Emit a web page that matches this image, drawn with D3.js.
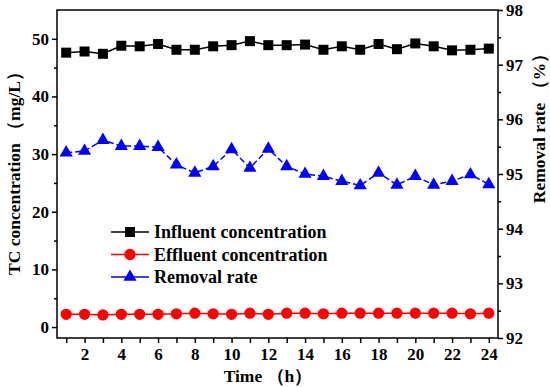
<!DOCTYPE html>
<html>
<head>
<meta charset="utf-8">
<script src="https://cdn.jsdelivr.net/npm/d3@7"></script>
<style>
  body { margin: 0; background: #fff; }
  svg text { font-family: "Liberation Serif", "Times New Roman", serif; font-weight: bold; }
</style>
</head>
<body>
<script>
// Data
var hours = d3.range(1, 25);
var influent = [47.6, 47.8, 47.4, 48.8, 48.7, 49.1, 48.1, 48.1, 48.7, 48.9, 49.6, 48.9,
                48.9, 49.0, 48.1, 48.7, 48.1, 49.1, 48.2, 49.2, 48.7, 48.0, 48.1, 48.3];
var effluent = [2.2, 2.2, 2.1, 2.2, 2.2, 2.2, 2.3, 2.4, 2.3, 2.2, 2.4, 2.2,
                2.4, 2.4, 2.3, 2.4, 2.4, 2.4, 2.4, 2.4, 2.4, 2.4, 2.3, 2.4];
var removal = [95.39, 95.42, 95.62, 95.51, 95.51, 95.49, 95.17, 95.02, 95.14, 95.45, 95.11, 95.46,
               95.14, 95.00, 94.96, 94.87, 94.79, 95.02, 94.80, 94.96, 94.80, 94.87, 94.99, 94.81];
var xTicks = [2, 4, 6, 8, 10, 12, 14, 16, 18, 20, 22, 24];
var leftTicks = [0, 10, 20, 30, 40, 50];
var rightTicks = [92, 93, 94, 95, 96, 97, 98];
var legendLabels = ["Influent concentration", "Effluent concentration", "Removal rate"];

var width = 550, height = 387;
var margin = { left: 57, right: 52, top: 10, bottom: 49 };

var svg = d3.select("body").append("svg")
            .attr("width", width)
            .attr("height", height);

var x = d3.scaleLinear().domain([0.5, 24.5]).range([margin.left, width - margin.right]);
var yL = d3.scaleLinear().domain([-1.9, 55]).range([height - margin.bottom, margin.top]);
var yR = d3.scaleLinear().domain([92, 98]).range([height - margin.bottom, margin.top]);

var fs = "17px";

// frame
svg.append("rect")
   .attr("x", margin.left).attr("y", margin.top)
   .attr("width", width - margin.left - margin.right)
   .attr("height", height - margin.top - margin.bottom)
   .attr("fill", "none").attr("stroke", "#000").attr("stroke-width", 1.5);

// x axis: ticks every hour, labels every 2
svg.append("g")
   .attr("transform", "translate(0," + (height - margin.bottom) + ")")
   .call(d3.axisBottom(x).tickValues(hours).tickSize(5).tickPadding(5)
         .tickFormat(function(d) { return xTicks.indexOf(d) >= 0 ? d : ""; }));

// left axis with minor ticks
svg.append("g")
   .attr("transform", "translate(" + margin.left + ",0)")
   .call(d3.axisLeft(yL).tickValues(leftTicks).tickSize(5).tickPadding(3));
svg.append("g")
   .attr("transform", "translate(" + margin.left + ",0)")
   .call(d3.axisLeft(yL).tickValues([5, 15, 25, 35, 45]).tickSize(3).tickFormat(""));

// right axis with minor ticks
svg.append("g")
   .attr("transform", "translate(" + (width - margin.right) + ",0)")
   .call(d3.axisRight(yR).tickValues(rightTicks).tickSize(5).tickPadding(3)
         .tickFormat(d3.format("d")));
svg.append("g")
   .attr("transform", "translate(" + (width - margin.right) + ",0)")
   .call(d3.axisRight(yR).tickValues([92.5, 93.5, 94.5, 95.5, 96.5, 97.5]).tickSize(3).tickFormat(""));

svg.selectAll(".domain").remove();
svg.selectAll(".tick line").attr("stroke", "#000").attr("stroke-width", 1.5);
svg.selectAll(".tick text").attr("font-size", fs).attr("fill", "#000")
   .style("font-family", "Liberation Serif").style("font-weight", "bold");

// axis titles
svg.append("text")
   .attr("transform", "translate(20,169) rotate(-90)")
   .attr("text-anchor", "middle").attr("font-size", "17.5px")
   .text("TC concentration （mg/L）");
svg.append("text")
   .attr("transform", "translate(545,124) rotate(-90)")
   .attr("text-anchor", "middle").attr("font-size", "17.5px")
   .text("Removal rate （%）");
svg.append("text")
   .attr("x", 268).attr("y", 382)
   .attr("text-anchor", "middle").attr("font-size", "17.5px")
   .text("Time （h）");

// lines
var lineInf = d3.line().x(function(d, i) { return x(hours[i]); }).y(function(d) { return yL(d); });
var lineRem = d3.line().x(function(d, i) { return x(hours[i]); }).y(function(d) { return yR(d); });

svg.append("path").datum(influent).attr("d", lineInf)
   .attr("fill", "none").attr("stroke", "#000").attr("stroke-width", 1.5);
svg.append("path").datum(effluent).attr("d", lineInf)
   .attr("fill", "none").attr("stroke", "#ff0000").attr("stroke-width", 1.5);
svg.append("path").datum(removal).attr("d", lineRem)
   .attr("fill", "none").attr("stroke", "#0000ff").attr("stroke-width", 1.5)
   .attr("stroke-dasharray", "6,3");

var sq = d3.symbol().type(d3.symbolSquare).size(100);
var ci = d3.symbol().type(d3.symbolCircle).size(100);
var tri = d3.symbol().type(d3.symbolTriangle).size(75);

svg.selectAll(".inf").data(influent).enter().append("path")
   .attr("d", sq)
   .attr("transform", function(d, i) { return "translate(" + x(hours[i]) + "," + yL(d) + ")"; })
   .attr("fill", "#000");
svg.selectAll(".eff").data(effluent).enter().append("path")
   .attr("d", ci)
   .attr("transform", function(d, i) { return "translate(" + x(hours[i]) + "," + yL(d) + ")"; })
   .attr("fill", "#ff0000");
svg.selectAll(".rem").data(removal).enter().append("path")
   .attr("d", tri)
   .attr("transform", function(d, i) { return "translate(" + x(hours[i]) + "," + yR(d) + ")"; })
   .attr("fill", "#0000ff");

// legend
var legColors = ["#000", "#ff0000", "#0000ff"];
var legSyms = [sq, ci, tri];
var leg = svg.append("g");
legendLabels.forEach(function(lbl, i) {
  var yy = 232 + i * 22.5;
  leg.append("line").attr("x1", 111).attr("x2", 149).attr("y1", yy).attr("y2", yy)
     .attr("stroke", legColors[i]).attr("stroke-width", 1.5);
  leg.append("path").attr("d", legSyms[i])
     .attr("transform", "translate(130," + yy + ")").attr("fill", legColors[i]);
  leg.append("text").attr("x", 154).attr("y", yy + 6)
     .attr("font-size", "18px").text(lbl);
});
</script>
</body>
</html>
